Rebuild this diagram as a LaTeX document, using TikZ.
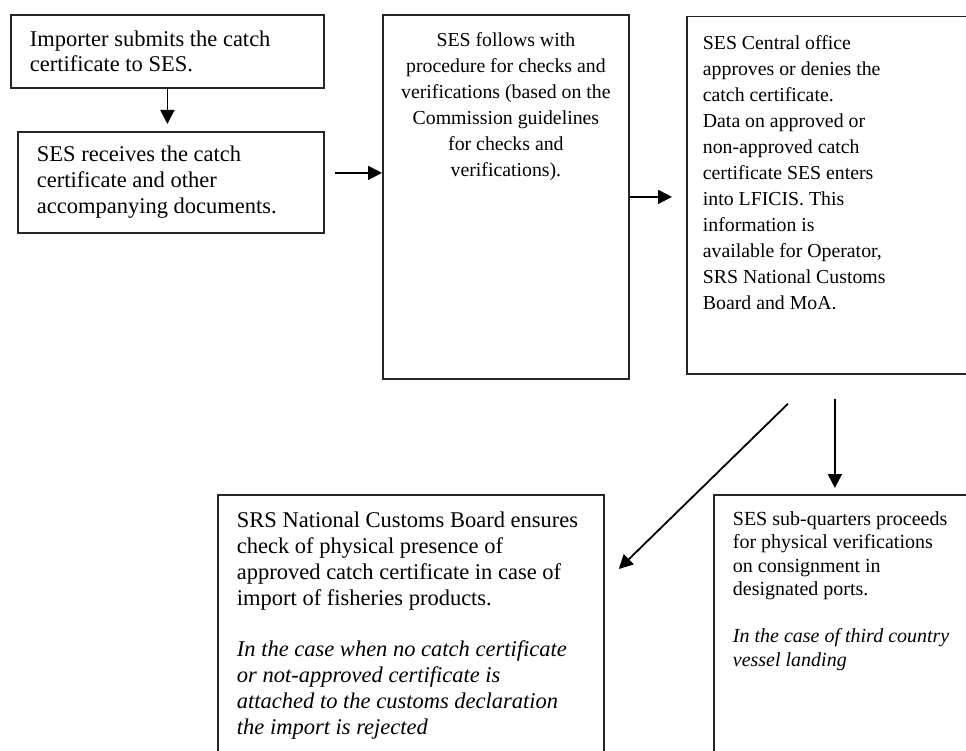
\documentclass[tikz,border=0pt]{standalone}
\usepackage{fontspec}
\setmainfont{Liberation Serif}
\usetikzlibrary{arrows.meta}

\newcommand{\largefont}{\fontsize{22.5}{25.8}\selectfont}
\newcommand{\midfont}{\fontsize{19.8}{26}\selectfont}
\newcommand{\smallfont}{\fontsize{20}{23.5}\selectfont}
% fixed height box, text sits at its top
\newcommand{\topbox}[3]{\parbox[c][#1][t]{#2}{#3}}

\begin{document}
\begin{tikzpicture}[x=1pt, y=-1pt,
	stage/.style={draw=black!85, line width=1.8pt, rectangle, anchor=north west, inner sep=0pt},
	flow/.style={-{Triangle[length=14pt,width=14pt]}, line width=1.8pt}]
	
	\useasboundingbox (0,0) rectangle (966,751);
	
	% left column
	\node[stage, minimum width=313pt, minimum height=73pt, inner xsep=19pt, text width=275pt, align=flush left, font=\largefont] (submit) at (10,14)
		{Importer submits the catch\\ certificate to SES.};
	\node[stage, minimum width=306pt, minimum height=101pt, inner xsep=19pt, text width=268pt, align=flush left, font=\largefont] (receive) at (17,131)
		{SES receives the catch\\ certificate and other\\ accompanying documents.};
	
	% tall boxes
	\node[stage, inner xsep=8pt, inner ysep=17.5pt, font=\midfont] (check) at (382,14)
		{\topbox{329pt}{230pt}{\centering SES follows with\\ procedure for checks and\\ verifications (based on the\\ Commission guidelines\\ for checks and\\ verifications).}};
	\node[stage, inner xsep=16pt, inner ysep=18.5pt, font=\midfont] (approve) at (686,15.7)
		{\topbox{320.3pt}{264pt}{\raggedright SES Central office\\ approves or denies the\\ catch certificate.\\ Data on approved or\\ non-approved catch\\ certificate SES enters\\ into LFICIS. This\\ information is\\ available for Operator,\\ SRS National Customs\\ Board and MoA.}};
	
	% bottom row
	\node[stage, inner xsep=19pt, inner ysep=17.3pt, font=\largefont] (customs) at (217,494)
		{\topbox{241.4pt}{348pt}{\raggedright SRS National Customs Board ensures\\ check of physical presence of\\ approved catch certificate in case of\\ import of fisheries products.\\[25.8pt]
		{\itshape In the case when no catch certificate\\ or not-approved certificate is\\ attached to the customs declaration\\ the import is rejected}}};
	\node[stage, inner xsep=19pt, inner ysep=16.3pt, font=\smallfont] (ports) at (713,494)
		{\topbox{243.4pt}{234pt}{\raggedright SES sub-quarters proceeds\\ for physical verifications\\ on consignment in\\ designated ports.\\[23.5pt]
		{\itshape In the case of third country\\ vessel landing}}};
	
	\draw[flow, shorten >=7pt] (submit.south) -- (submit.south |- receive.north);
	\coordinate (rc) at ([yshift=9.5pt]receive.east);
	\draw[flow, shorten <=10pt] (rc) -- (rc -| check.west);
	\draw[flow, shorten >=14pt] (check.east) -- (check.east -| approve.west);
	\draw[flow, shorten <=24pt, shorten >=6pt] (approve.south) -- (approve.south |- ports.north);
	\draw[flow] ([xshift=-47pt,yshift=-29pt]approve.south) -- ([xshift=14pt,yshift=-75pt]customs.north east);
	
\end{tikzpicture}
\end{document}
